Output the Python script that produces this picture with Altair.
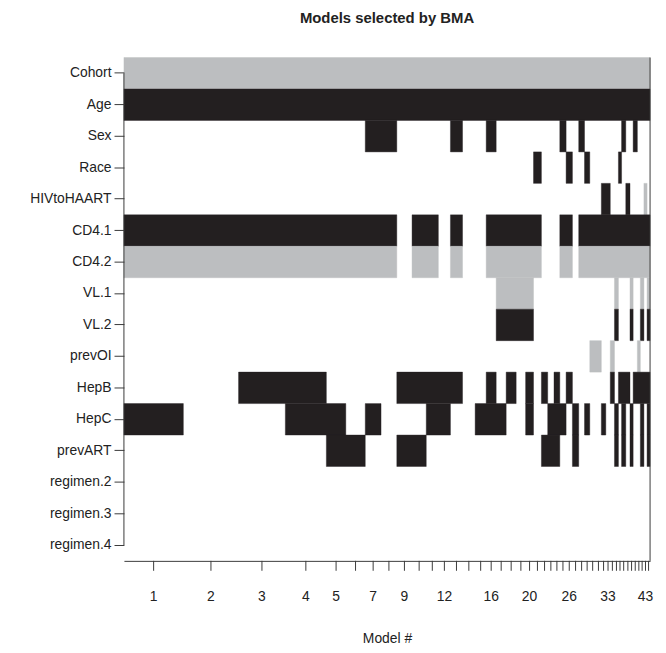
import altair as alt
import pandas as pd

variables = ["Cohort", "Age", "Sex", "Race", "HIVtoHAART", "CD4.1", "CD4.2",
             "VL.1", "VL.2", "prevOI", "HepB", "HepC", "prevART",
             "regimen.2", "regimen.3", "regimen.4"]

# posterior probabilities of the models (sorted), read from the widths
postprob = [0.113, 0.105, 0.089, 0.078, 0.037, 0.037, 0.030, 0.030, 0.029, 0.027,
            0.023, 0.023, 0.023, 0.024, 0.021, 0.019, 0.019, 0.019, 0.018, 0.015,
            0.015, 0.012, 0.012, 0.011, 0.012, 0.012, 0.012, 0.011, 0.010, 0.011,
            0.011, 0.0085, 0.0085, 0.008, 0.0075, 0.006, 0.008, 0.008, 0.006, 0.008,
            0.0057, 0.0068, 0.006, 0.0057]

shown_labels = [1, 2, 3, 4, 5, 7, 9, 12, 16, 20, 26, 33, 43]

n_models = len(postprob)
all_models = list(range(1, n_models + 1))

# models (1-based) in which each variable enters, split by sign of its coefficient
cohort_neg = all_models
age_pos = all_models
sex_pos = [7, 8, 13, 16, 25, 28, 37, 40]
race_pos = [21, 26, 29, 36]
hiv_pos = [32, 33, 38]
hiv_neg = [43]
cd4_out = [9, 12, 14, 15, 22, 23, 24, 27]
cd41_pos = [m for m in all_models if m not in cd4_out]
cd42_neg = cd41_pos
vl1_neg = [17, 18, 19, 20, 35, 39, 42, 44]
vl2_pos = vl1_neg
prevoi_neg = [30, 31, 34, 41]
hepb_pos = [3, 4, 9, 10, 11, 12, 13, 16, 18, 20, 22, 24, 26, 34, 36, 37, 38,
            40, 41, 42, 43, 44]
hepc_pos = [1, 4, 5, 7, 11, 12, 15, 16, 17, 20, 23, 24, 25, 27, 29, 32, 35,
            37, 39, 42, 44]
prevart_pos = [5, 6, 9, 10, 22, 23, 24, 27, 35, 37, 39, 42, 44]

entries = [
    ("Cohort", cohort_neg, "neg"), ("Age", age_pos, "pos"), ("Sex", sex_pos, "pos"),
    ("Race", race_pos, "pos"), ("HIVtoHAART", hiv_pos, "pos"),
    ("HIVtoHAART", hiv_neg, "neg"), ("CD4.1", cd41_pos, "pos"),
    ("CD4.2", cd42_neg, "neg"), ("VL.1", vl1_neg, "neg"), ("VL.2", vl2_pos, "pos"),
    ("prevOI", prevoi_neg, "neg"), ("HepB", hepb_pos, "pos"),
    ("HepC", hepc_pos, "pos"), ("prevART", prevart_pos, "pos"),
]

cum = [0.0]
for p in postprob:
    cum.append(cum[-1] + p)
total = cum[-1]

# merge runs of consecutive models into one cell so no seams show
rows = []
for var, models, sign in entries:
    ms = sorted(models)
    start = prev = ms[0]
    for m in ms[1:] + [None]:
        if m is not None and m == prev + 1:
            prev = m
            continue
        rows.append({"var": var, "x0": cum[start - 1], "x1": cum[prev], "sign": sign})
        if m is not None:
            start = prev = m
cells = pd.DataFrame(rows)

mods = pd.DataFrame({
    "model": all_models,
    "center": [(cum[i] + cum[i + 1]) / 2 for i in range(n_models)],
})
mods["label"] = [str(m) if m in shown_labels else "" for m in all_models]

W, H = 531, 508
FONT = "Liberation Sans"
LINE = "#3a3a3a"

xscale = alt.Scale(domain=[0, total], nice=False, zero=False)
cscale = alt.Scale(domain=["pos", "neg"], range=["#231f20", "#bcbec0"])

rects = alt.Chart(cells).mark_rect(strokeWidth=0.4).encode(
    x=alt.X("x0:Q", scale=xscale,
            axis=alt.Axis(ticks=False, labels=False, grid=False, domain=True,
                          domainColor=LINE, title="Model #", titleFont=FONT,
                          titleFontWeight="normal", titleFontSize=14,
                          titleColor="#222", titlePadding=71)),
    x2="x1:Q",
    y=alt.Y("var:N", sort=variables,
            scale=alt.Scale(domain=variables, paddingInner=0, paddingOuter=0),
            axis=alt.Axis(domain=False, tickSize=10, tickColor=LINE,
                          labelFont=FONT, labelFontSize=14, labelColor="#222",
                          labelPadding=3, title=None)),
    color=alt.Color("sign:N", scale=cscale, legend=None),
    stroke=alt.Stroke("sign:N", scale=cscale, legend=None),
)

ticks = alt.Chart(mods).mark_rule(color=LINE, strokeWidth=1).encode(
    x=alt.X("center:Q", scale=xscale),
    y=alt.value(H),
    y2=alt.value(H + 10),
)

labels = alt.Chart(mods).transform_filter("datum.label != ''").mark_text(
    font=FONT, fontSize=14, color="#222", baseline="middle"
).encode(
    x=alt.X("center:Q", scale=xscale),
    y=alt.value(H + 37),
    text="label:N",
)

one = pd.DataFrame({"a": [0]})
yline = alt.Chart(one).mark_rule(color=LINE).encode(
    x=alt.value(0), y=alt.value(H / 32), y2=alt.value(H * 31 / 32))
rline = alt.Chart(one).mark_rule(color=LINE).encode(
    x=alt.value(W), y=alt.value(0), y2=alt.value(H))

chart = alt.layer(rects, ticks, labels, yline, rline).properties(
    width=W, height=H,
    title=alt.TitleParams("Models selected by BMA", font=FONT, fontSize=15,
                          fontWeight="bold", anchor="middle", offset=31,
                          color="#222"),
    padding={"left": 117, "top": 47, "right": 8, "bottom": 90},
    autosize="none",
).configure_view(stroke=None)

chart.save("out.html", embed_options={"renderer": "svg", "actions": False})
